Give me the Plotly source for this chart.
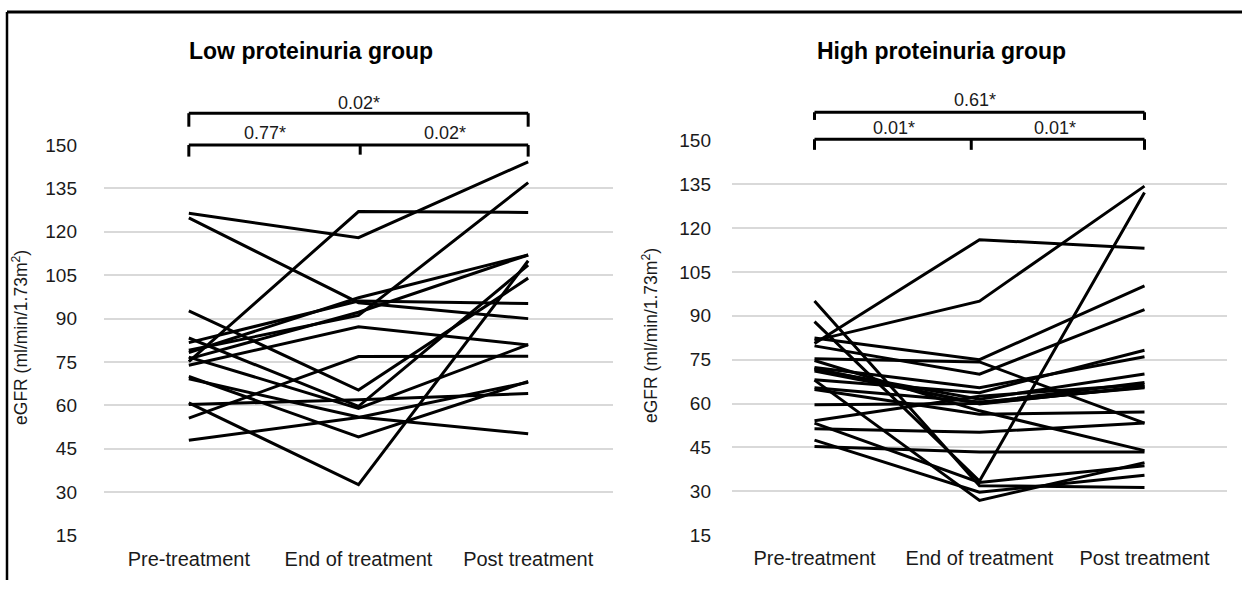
import plotly.graph_objects as go

categories = ["Pre-treatment", "End of treatment", "Post treatment"]
y_ticks = [15, 30, 45, 60, 75, 90, 105, 120, 135, 150]

# Low proteinuria group (one entry per patient)
low_pre = [126.4, 124.8, 75.1, 79.1, 78.3, 76.1, 60.9, 92.7, 83.3, 81.7, 73.9, 55.6, 48.0, 60.3, 70.0, 69.2, 76.7]
low_end = [118.0, 95.5, 127.0, 91.1, 97.2, 92.2, 32.6, 65.3, 59.7, 96.1, 87.2, 76.9, 55.8, 62.0, 49.1, 56.0, 59.0]
low_post = [144.2, 90.0, 126.7, 137.0, 112.0, 112.0, 110.0, 104.0, 108.5, 95.2, 80.9, 77.0, 68.0, 64.1, 68.3, 50.2, 81.0]

# High proteinuria group (one entry per patient)
high_pre = [81.5, 80.5, 88.0, 82.4, 79.7, 75.3, 74.7, 72.3, 71.6, 71.1, 68.1, 72.0, 65.4, 64.8, 59.6, 54.1, 53.3, 51.4, 47.5, 45.3, 68.0, 95.0]
high_end = [95.0, 116.0, 33.5, 75.0, 70.0, 74.2, 57.5, 65.4, 61.5, 60.2, 63.7, 59.8, 60.5, 56.3, 60.0, 62.5, 33.0, 50.2, 29.7, 43.4, 26.9, 31.9]
high_post = [134.3, 113.1, 132.1, 100.2, 92.1, 53.3, 43.9, 76.0, 70.1, 67.2, 78.2, 65.9, 65.4, 57.1, 65.6, 66.5, 38.7, 53.3, 35.5, 43.4, 39.8, 31.3]

low_p = {"all": "0.02*", "first": "0.77*", "second": "0.02*"}
high_p = {"all": "0.61*", "first": "0.01*", "second": "0.01*"}

W, H = 1242, 591
FONT = "Liberation Sans, Arial, sans-serif"
TXT = "#1a1a1a"

def px_x(p):
    return p / W

def px_y(p):
    return (H - p) / H

fig = go.Figure()

for pre, end, post in zip(low_pre, low_end, low_post):
    fig.add_trace(go.Scatter(x=categories, y=[pre, end, post], mode="lines",
                             line=dict(color="black", width=3), xaxis="x", yaxis="y",
                             showlegend=False, hoverinfo="skip"))
for pre, end, post in zip(high_pre, high_end, high_post):
    fig.add_trace(go.Scatter(x=categories, y=[pre, end, post], mode="lines",
                             line=dict(color="black", width=3), xaxis="x2", yaxis="y2",
                             showlegend=False, hoverinfo="skip"))

axis_common = dict(showline=False, zeroline=False, ticks="")
xcommon = dict(axis_common, type="category", categoryorder="array", categoryarray=categories,
               range=[-0.5, 2.5], showgrid=False,
               tickfont=dict(family=FONT, size=20, color=TXT), ticklabelstandoff=9)
ycommon = dict(axis_common, range=[15, 150], tickvals=y_ticks, showgrid=True,
               gridcolor="#d9d9d9", gridwidth=1.5,
               tickfont=dict(family=FONT, size=19, color=TXT))

fig.update_layout(
    width=W, height=H,
    margin=dict(l=0, r=0, t=0, b=0),
    paper_bgcolor="white", plot_bgcolor="white",
    xaxis=dict(xcommon, domain=[px_x(104), px_x(613)], anchor="y"),
    yaxis=dict(ycommon, domain=[px_y(545), px_y(140)], anchor="x", ticklabelstandoff=26),
    xaxis2=dict(xcommon, domain=[px_x(732), px_x(1227)], anchor="y2"),
    yaxis2=dict(ycommon, domain=[px_y(544.5), px_y(135)], anchor="x2", ticklabelstandoff=20),
)

shapes = []
annotations = []

def bracket(xref, y_top, y_top_tick, y_low, y_low_tick, y_mid_tick, mid_x):
    line = dict(color="black", width=3)
    s = []
    s.append(dict(type="line", xref=xref, yref="paper", x0=0, x1=2, y0=px_y(y_top), y1=px_y(y_top), line=line))
    s.append(dict(type="line", xref=xref, yref="paper", x0=0, x1=0, y0=px_y(y_top), y1=px_y(y_top_tick), line=line))
    s.append(dict(type="line", xref=xref, yref="paper", x0=2, x1=2, y0=px_y(y_top), y1=px_y(y_top_tick), line=line))
    s.append(dict(type="line", xref=xref, yref="paper", x0=0, x1=2, y0=px_y(y_low), y1=px_y(y_low), line=line))
    s.append(dict(type="line", xref=xref, yref="paper", x0=0, x1=0, y0=px_y(y_low), y1=px_y(y_low_tick), line=line))
    s.append(dict(type="line", xref=xref, yref="paper", x0=2, x1=2, y0=px_y(y_low), y1=px_y(y_low_tick), line=line))
    s.append(dict(type="line", xref=xref, yref="paper", x0=mid_x, x1=mid_x, y0=px_y(y_low), y1=px_y(y_mid_tick), line=line))
    return s

shapes += bracket("x", 107, 121, 140, 152, 150, 1.01)
shapes += bracket("x2", 106, 114, 134, 145, 145, 0.95)

tfont = dict(family=FONT, size=18, color=TXT)
def ptext(xref, x, y, text):
    return dict(xref=xref, yref="paper", x=x, y=px_y(y), text=text, showarrow=False,
                font=tfont, xanchor="center", yanchor="middle")

annotations += [
    ptext("x", 1.0, 96, low_p["all"]),
    ptext("x", 0.45, 128, low_p["first"]),
    ptext("x", 1.51, 128, low_p["second"]),
    ptext("x2", 0.97, 93, high_p["all"]),
    ptext("x2", 0.48, 122, high_p["first"]),
    ptext("x2", 1.46, 122, high_p["second"]),
]

title_font = dict(family=FONT, size=23, color="black")
annotations += [
    dict(xref="paper", yref="paper", x=px_x(311), y=px_y(42), text="<b>Low proteinuria group</b>",
         showarrow=False, font=title_font, xanchor="center", yanchor="middle"),
    dict(xref="paper", yref="paper", x=px_x(941), y=px_y(42), text="<b>High proteinuria group</b>",
         showarrow=False, font=title_font, xanchor="center", yanchor="middle"),
]

ytitle = "eGFR (ml/min/1.73m<sup>2</sup>)"
yfont = dict(family=FONT, size=17.5, color=TXT)
annotations += [
    dict(xref="paper", yref="paper", x=px_x(20), y=px_y(340), text=ytitle, textangle=-90,
         showarrow=False, font=yfont, xanchor="center", yanchor="middle"),
    dict(xref="paper", yref="paper", x=px_x(650), y=px_y(338), text=ytitle, textangle=-90,
         showarrow=False, font=yfont, xanchor="center", yanchor="middle"),
]

# outer frame (top and left edges)
shapes += [
    dict(type="line", xref="paper", yref="paper", x0=px_x(7), x1=1, y0=px_y(2), y1=px_y(2),
         line=dict(color="black", width=3)),
    dict(type="line", xref="paper", yref="paper", x0=px_x(7), x1=px_x(7), y0=px_y(2), y1=0,
         line=dict(color="black", width=2.5)),
]

fig.update_layout(shapes=shapes, annotations=annotations)

page_fix = (
    "document.documentElement.style.margin='0';"
    "document.documentElement.style.overflow='hidden';"
    "document.body.style.margin='0';"
    "document.body.style.overflow='hidden';"
    "var d=document.getElementById('{plot_id}');"
    "d.style.position='fixed';d.style.left='0px';d.style.top='0px';"
)
fig.write_html("out.html", config={"displayModeBar": False}, post_script=page_fix)
